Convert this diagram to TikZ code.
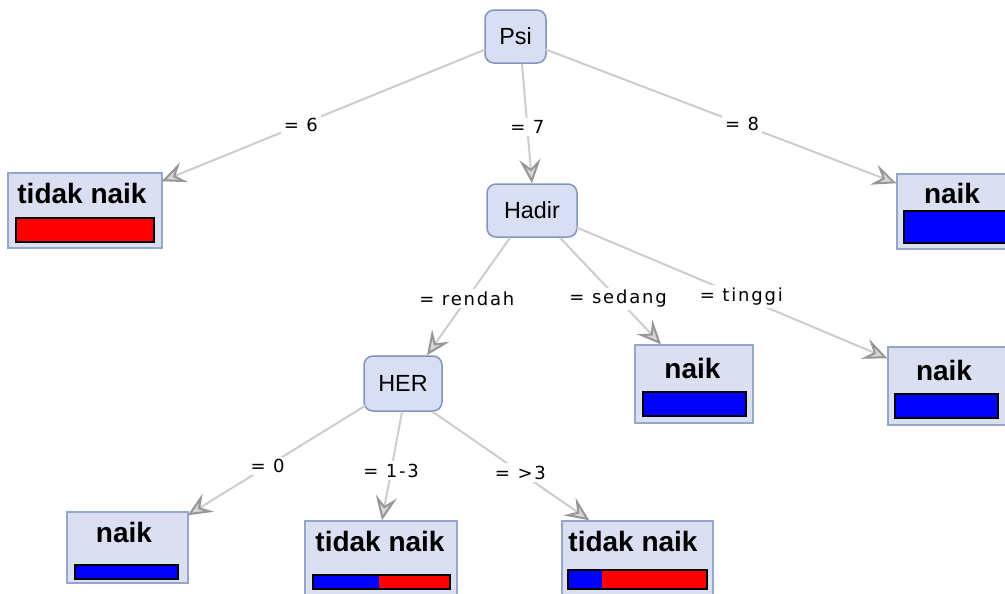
\documentclass[tikz,border=0pt]{standalone}
\usepackage{fontspec}
\setmainfont{Liberation Sans}
\newfontfamily\lblfont[LetterSpace=10]{DejaVu Sans}
\usetikzlibrary{arrows.meta,calc}
\newdimen\px \px=0.75pt
\definecolor{nodefill}{RGB}{216,223,242}
\definecolor{nodeborder}{RGB}{130,148,190}
\definecolor{leaffill}{RGB}{218,224,242}
\definecolor{leafborder}{RGB}{150,165,202}
\definecolor{edgegray}{RGB}{205,205,205}
\definecolor{arrowgray}{RGB}{150,150,150}
\definecolor{arrowfill}{RGB}{215,215,215}
\begin{document}
\begin{tikzpicture}[x=0.75pt,y=-0.75pt,
  inner/.style={draw=nodeborder, fill=nodefill, rounded corners=9\px, line width=1.5\px, inner sep=0pt, font=\fontsize{17.5}{20}\selectfont},
  leafbox/.style={draw=leafborder, fill=leaffill, line width=1.5\px, inner sep=0pt},
  leaftext/.style={font=\bfseries\fontsize{21}{24}\selectfont, inner sep=0pt},
  edge/.style={draw=edgegray, line width=2\px, -{Stealth[length=18pt,width=16pt,inset=7pt,color=arrowgray,fill=arrowfill]}},
  elabel/.style={fill=white, inner sep=2pt, font=\lblfont\fontsize{13.5}{15}\selectfont, text=black},
  bar/.style={draw=black, line width=1.5\px}
]
\useasboundingbox (0,0) rectangle (1005,593);
\fill[white] (0,0) rectangle (1005,593);
\clip (0,0) rectangle (1005,593);

% internal nodes
\node[inner, minimum width=61\px, minimum height=53\px] (psi) at (515.5,36.5) {Psi};
\node[inner, minimum width=90\px, minimum height=53\px] (hadir) at (532,210.5) {Hadir};
\node[inner, minimum width=78\px, minimum height=55\px] (her) at (403,383.5) {HER};

% leaves
\node[leafbox, minimum width=154\px, minimum height=75\px] (l1) at (85,210.5) {};
\node[leaftext] (l1t) at (82,193) {tidak naik};
\draw[bar, fill=red] (16,218) rectangle (154,242);

\node[leafbox, minimum width=118\px, minimum height=75\px] (r1) at (956,211.5) {};
\node[leaftext] (r1t) at (952,193) {naik};
\draw[bar, fill=blue] (904,211) rectangle (1008,243);

\node[leafbox, minimum width=118\px, minimum height=78\px] (sed) at (694,384) {};
\node[leaftext] (sedt) at (692.5,368) {naik};
\draw[bar, fill=blue] (643,392) rectangle (746,416);

\node[leafbox, minimum width=118\px, minimum height=78\px] (tin) at (947,386) {};
\node[leaftext] (tint) at (944,370) {naik};
\draw[bar, fill=blue] (895,394) rectangle (998,418);

\node[leafbox, minimum width=121\px, minimum height=71\px] (n0) at (127.5,547.5) {};
\node[leaftext] (n0t) at (124,532) {naik};
\draw[bar, fill=blue] (75,565) rectangle (178,579);

\node[leafbox, minimum width=152\px, minimum height=79\px] (t13) at (381,560.5) {};
\node[leaftext] (t13t) at (380,541) {tidak naik};
\fill[blue] (313,575) rectangle (379,589);
\fill[red] (379,575) rectangle (450,589);
\draw[bar] (313,575) rectangle (450,589);

\node[leafbox, minimum width=151\px, minimum height=79\px] (t3) at (637.5,560.5) {};
\node[leaftext] (t3t) at (633,541) {tidak naik};
\fill[blue] (568,570) rectangle (602,589);
\fill[red] (602,570) rectangle (707,589);
\draw[bar] (568,570) rectangle (707,589);

% edges
\draw[edge] ($(psi.west)+(1,13)$) -- node[elabel,pos=0.57]{= 6} ($(l1.north east)+(-1,9)$);
\draw[edge] ($(psi.south)+(6.5,0)$) -- node[elabel,pos=0.53]{= 7} (hadir.north);
\draw[edge] ($(psi.east)+(-1,13)$) -- node[elabel,pos=0.56]{= 8} ($(r1.north west)+(0,10)$);

\draw[edge] ($(hadir.south)+(-22,0)$) -- node[elabel,pos=0.52]{= rendah} ($(her.north)+(24,0)$);
\draw[edge] ($(hadir.south)+(28,0)$) -- node[elabel,pos=0.575]{= sedang} ($(sed.north)+(-33,0)$);
\draw[edge] ($(hadir.east)+(-1,17)$) -- node[elabel,pos=0.53]{= tinggi} ($(tin.north west)+(0,12)$);

\draw[edge] ($(her.south west)+(2,-6)$) -- node[elabel,pos=0.55]{= 0} ($(n0.north east)+(-1,4)$);
\draw[edge] ($(her.south)+(-1,0)$) -- node[elabel,pos=0.545]{= 1-3} ($(t13.north)+(1,0)$);
\draw[edge] ($(her.south east)+(-10,0)$) -- node[elabel,pos=0.56]{= >3} ($(t3.north west)+(28,0)$);
\end{tikzpicture}
\end{document}
